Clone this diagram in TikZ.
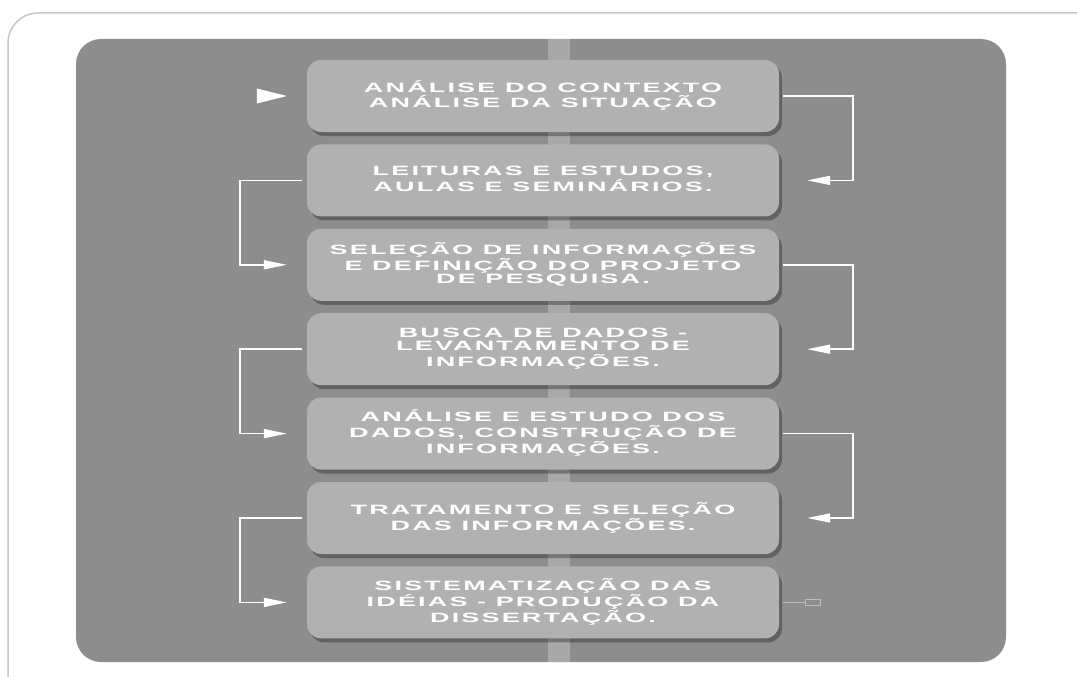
\documentclass[tikz,border=0pt]{standalone}
\usepackage{fontspec}
\usepackage{graphicx}
\newfontfamily\stepfont[LetterSpace=8]{Liberation Sans Bold}
\usepackage{tikz}
\usetikzlibrary{positioning, arrows.meta, shadows}

\definecolor{panelgray}{HTML}{8D8D8D}
\definecolor{boxgray}{HTML}{B1B1B1}
\definecolor{bargray}{HTML}{A8A8A8}
\definecolor{framegray}{HTML}{C6C6C6}
\definecolor{stubgray}{HTML}{BDBDBD}

% wide lettering of the step boxes
\newcommand{\steptext}[1]{\scalebox{2.0}[1.0]{\begin{tabular}{@{}c@{}}#1\end{tabular}}}

\tikzset{
  stepbox/.style={fill=boxgray, rounded corners=14pt, minimum width=472pt,
    minimum height=72pt, text=white, align=center, inner sep=2pt,
    font=\stepfont\fontsize{13.5}{13.2}\selectfont,
    drop shadow={shadow xshift=3pt, shadow yshift=-4pt, opacity=0.3, fill=black}},
  link/.style={draw=white, line width=1.6pt, -{Triangle[length=23pt,width=9pt]}},
}

\begin{document}
\begin{tikzpicture}[x=1pt, y=-1pt]
\useasboundingbox (0,0) rectangle (1077,677);
\clip (0,0) rectangle (1077,677);

% Page frame and grey panel
\draw[framegray, line width=1.5pt, rounded corners=30pt] (8,13) rectangle (1110,720);
\fill[panelgray, rounded corners=25pt] (76,39) rectangle (1006,662);
\fill[bargray] (548,39) rectangle (570,662); % central bar

% Steps
\node[stepbox] (ctx) at (543,96) {\steptext{ANÁLISE DO CONTEXTO\\ANÁLISE DA SITUAÇÃO}};
\node[stepbox, below=12pt of ctx] (leit) {\steptext{LEITURAS E ESTUDOS,\\AULAS E SEMINÁRIOS.}};
\node[stepbox, below=12pt of leit] (sel) {\steptext{SELEÇÃO DE INFORMAÇÕES\\E DEFINIÇÃO DO PROJETO\\DE PESQUISA.}};
\node[stepbox, below=12pt of sel] (busca) {\steptext{BUSCA DE DADOS -\\LEVANTAMENTO DE\\INFORMAÇÕES.}};
\node[stepbox, below=12pt of busca] (anal) {\steptext{ANÁLISE E ESTUDO DOS\\DADOS, CONSTRUÇÃO DE\\INFORMAÇÕES.}};
\node[stepbox, below=12pt of anal] (trat) {\steptext{TRATAMENTO E SELEÇÃO\\DAS INFORMAÇÕES.}};
\node[stepbox, below=12pt of trat] (sist) {\steptext{SISTEMATIZAÇÃO DAS\\IDÉIAS - PRODUÇÃO DA\\DISSERTAÇÃO.}};

% Entry arrow
\fill[white] ([xshift=-20pt]ctx.west) -- ++(-30,-7.5) -- ++(0,15) -- cycle;

% Zig-zag connectors
\draw[link] ([xshift=4pt]ctx.east) -- ++(70,0) |- ([xshift=28pt]leit.east);
\draw[link] ([xshift=-5pt]leit.west) -- ++(-62,0) |- ([xshift=-20pt]sel.west);
\draw[link] ([xshift=4pt]sel.east) -- ++(70,0) |- ([xshift=28pt]busca.east);
\draw[link] ([xshift=-5pt]busca.west) -- ++(-62,0) |- ([xshift=-20pt]anal.west);
\draw[link] ([xshift=4pt]anal.east) -- ++(70,0) |- ([xshift=28pt]trat.east);
\draw[link] ([xshift=-5pt]trat.west) -- ++(-62,0) |- ([xshift=-20pt]sist.west);

% End mark
\node[draw=stubgray, line width=1pt, minimum width=15pt, minimum height=6pt,
  inner sep=0pt, anchor=west] (endmark) at ([xshift=26pt]sist.east) {};
\draw[stubgray, line width=0.8pt] ([xshift=4pt]sist.east) -- (endmark.west);
\end{tikzpicture}
\end{document}
